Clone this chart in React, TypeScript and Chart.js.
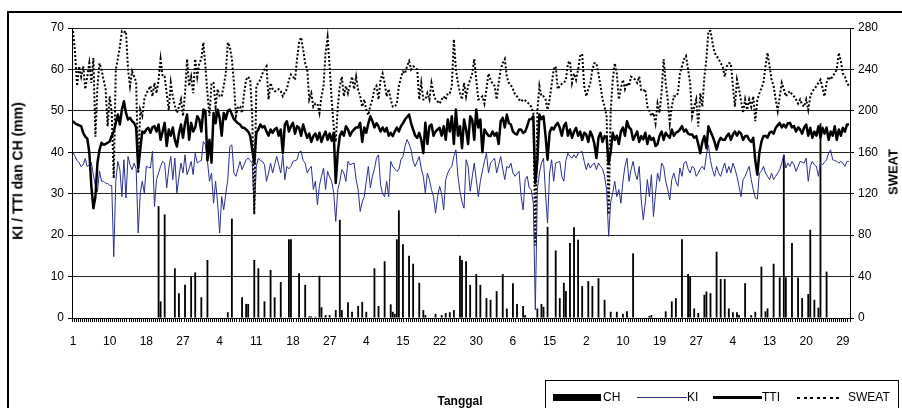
import React, { useEffect, useRef } from 'react';
import { Chart, registerables } from 'chart.js';

Chart.register(...registerables);

const FONT = "'Liberation Sans', Arial, Helvetica, sans-serif";

// x-axis tick labels (one label every LABEL_EVERY observations)
const tickLabels = ['1', '10', '18', '27', '4', '11', '18', '27', '4', '15', '22', '30', '6', '15', '2', '10', '19', '27', '4', '13', '20', '29'];
const LABEL_EVERY = 18;

// CH (mm) – rainfall bars, left axis
const chValues = [
  0, 0, 0, 0, 0, 0, 0, 0, 0, 0, 0, 0, 0, 0, 0, 0, 0, 0, 0, 0,
  0, 0, 0, 0, 0, 0, 0, 0, 0, 0, 0, 0, 0, 0, 0, 0, 0, 0, 0, 0,
  0, 0, 27, 4, 0, 25, 0, 0, 0, 0, 12, 0, 6, 0, 0, 8, 0, 0, 10, 0,
  11, 0, 0, 5, 0, 0, 14, 0, 0, 0, 0, 0, 0, 0, 0, 0, 1.4, 0, 24, 0,
  0, 0, 0, 5, 0, 3.4, 3.4, 0, 0, 14, 0, 12, 0, 0, 4, 0, 0, 11.6, 0, 5,
  0, 0, 8.7, 0, 0, 0, 19, 19, 0, 0, 0, 10.8, 0, 0, 8, 0, 0.4, 0.4, 0, 0.3,
  0, 10.2, 2.6, 0, 0.7, 0, 0.7, 0, 0, 1.9, 0, 23.7, 1.9, 0, 0, 3.8, 0, 1.5, 0, 0,
  2.9, 0, 3.9, 0, 1.5, 0, 0, 0, 12, 0, 2.9, 0, 0, 13.7, 0, 0, 3.3, 1.5, 1, 19,
  26, 0, 17.8, 0, 0, 15, 0, 13.1, 0, 0, 8.5, 0, 1.9, 0.7, 0, 0, 0, 0, 1, 0,
  0, 0.7, 0, 1.2, 0, 1.4, 0, 1.9, 0, 0, 15, 14, 0, 13.7, 0, 8, 0, 0, 10.6, 0,
  8, 0, 0, 4.8, 0, 4.4, 0, 0, 6.5, 0, 0, 10.6, 0, 2.3, 0, 0, 8.4, 0, 3.4, 0,
  0, 2.9, 0.7, 0, 0, 0, 0, 0, 2.3, 0, 3.4, 2.7, 0, 22, 0, 0, 0, 16.3, 0, 4.8,
  0, 8.5, 6.5, 0, 18.1, 0, 21.9, 0, 18.9, 0, 7.7, 0, 0, 8.9, 0, 7.7, 0, 0, 9.6, 0,
  0, 4.4, 0, 0, 1.5, 0, 0, 1.5, 0, 0, 1, 0, 1.6, 0, 0, 15.6, 0, 0, 0, 0,
  0, 0, 0, 0.5, 0.7, 0, 0, 0, 0, 0, 0, 1.6, 0, 0, 4, 0, 4.8, 0, 0, 19,
  0, 0, 10.6, 10, 0, 2.3, 0, 1.2, 0, 0, 5.6, 6.4, 0, 6, 0, 0, 16, 0, 9.4, 0,
  9.4, 0, 2.3, 0, 1.4, 0, 1.4, 0.7, 0, 0, 8.4, 0, 0, 0.7, 0, 1.5, 0, 0, 12.4, 0,
  1.6, 2.3, 0, 0, 13.1, 0, 0, 9.8, 0, 39.4, 9.8, 0, 0, 18.1, 0, 0, 9.8, 0, 4.8, 0,
  0, 5.8, 21.3, 0, 4.4, 0, 2.5, 47, 0, 0, 11.2, 0, 0, 0, 0, 0, 0, 0, 0, 0,
  0, 0,
];

// KI – left axis
const kiValues = [
  40, 39, 38, 37.5, 36.5, 37, 38.5, 36.5, 37, 37.5, 34.5, 32, 30.5, 35.5, 33, 33, 32.5, 32.5, 32, 32,
  14.8, 33, 37.8, 35.8, 29.3, 38.2, 29, 39, 37, 35.8, 37.4, 36, 20.5, 30, 33, 30.2, 36.6, 36.4, 36.2, 40.3,
  26.9, 33.4, 35, 36.6, 37.8, 37.4, 31.4, 36, 39, 33.4, 38.6, 30.2, 34, 37.4, 35, 39.4, 34.6, 36, 37.8, 34.6,
  39.8, 37.4, 37.8, 38, 42.6, 41.8, 38, 33, 35, 27.7, 33, 27.7, 20.5, 29.3, 26.1, 30, 33.4, 41.4, 41.8, 35,
  34.2, 36, 37.8, 35.8, 37, 38.2, 38.6, 38, 37.4, 25.3, 36.6, 38.6, 38, 37.8, 37, 33, 35, 37.4, 35, 37,
  39, 37, 35, 39.4, 33.4, 36.6, 36, 36.6, 37.8, 38, 38.2, 40, 40.3, 38, 37.4, 35, 36, 36.6, 31, 33,
  27.3, 32, 34.2, 36.2, 31, 35.4, 34, 33, 30.2, 23.3, 31, 33, 35.8, 35, 33, 37.8, 37, 37.2, 37.4, 33.4,
  31, 25.7, 28, 29.3, 33, 36.6, 31.4, 34.2, 36, 38.6, 39.4, 32.2, 30, 29.3, 33, 29.3, 37.8, 36.6, 36, 35.4,
  35.8, 38.2, 39, 41.4, 43.1, 42, 40.6, 37.8, 36.6, 37.8, 39, 36, 34.2, 30.2, 35, 33.4, 31, 29.3, 25.3, 29.3,
  31.8, 30, 26.1, 33.4, 35, 36, 36.6, 39, 40.6, 34.2, 30.6, 28, 26.5, 38.2, 36.6, 30.6, 34, 37.4, 33.4, 29.3,
  33, 35.5, 37.8, 39.8, 35, 37.4, 38, 38.6, 35, 37, 39, 36, 33.4, 36.6, 36.2, 37.4, 35, 34.2, 34.8, 35.4,
  29.3, 26.1, 33.4, 34.2, 31.4, 31, 27.7, 2, 31, 35, 37.4, 38.6, 30, 22.9, 35, 38.2, 33, 37.4, 37.6, 37.8,
  34.2, 33, 38, 39.8, 39, 38.6, 39.4, 38.6, 39.8, 40, 40.2, 37.8, 35.8, 37.4, 36.2, 37, 37.4, 35.8, 37.4, 36.6,
  36, 34.2, 31, 19.7, 28, 30.2, 33, 29.3, 31, 27.7, 33, 36.6, 38.6, 33, 35.8, 37.8, 35, 33.4, 36.6, 28.5,
  23.7, 28, 33.4, 29.3, 34.6, 24.5, 30, 35, 33, 37.4, 36.6, 33, 31, 28.5, 33.4, 35, 33, 31.8, 36.2, 34.2,
  37.4, 37.8, 36, 35, 36.6, 36.2, 34.2, 35, 36, 36.6, 35.8, 39.4, 41.8, 38, 35.8, 34.2, 36.6, 35, 34.2, 36,
  37.4, 35, 36.6, 35, 37.4, 36, 34.2, 31.8, 29.3, 33.4, 34.2, 35.5, 36.6, 33.4, 31, 29, 28.7, 35, 35.4, 36.6,
  35, 34.2, 33.4, 35, 33.4, 34.2, 35, 35.8, 37.4, 39.4, 36.2, 37.4, 36.6, 37.8, 37, 35.4, 36.6, 37.8, 37.6, 37.4,
  38.6, 33, 36.6, 37.8, 37, 36.6, 34.2, 37.4, 37, 37.6, 38.2, 39.8, 40.6, 38.2, 38, 37.8, 37.4, 37.8, 37.4, 36.6,
  37.8, 37.8,
];

// TTI – left axis
const ttiValues = [
  47.5, 47, 46.7, 46.5, 46.3, 44.7, 43.8, 43.3, 40, 31.8, 26.5, 29.3, 37.4, 40.6, 42.3, 41.8, 42, 42.3, 42.6, 44,
  45, 47, 49.1, 46.7, 50.3, 52.3, 49.5, 47.9, 48.3, 47.5, 47.1, 45.9, 36.2, 40.6, 45, 44.7, 45.5, 45.9, 44.7, 46,
  46.3, 45, 46.7, 43, 45, 47.1, 41.5, 45.5, 44, 46, 43, 41.4, 44.5, 46.7, 43.5, 47, 49.1, 43, 47.1, 45,
  46, 48.7, 47.9, 45, 50.3, 50, 38, 43, 37.5, 49.5, 47, 50.3, 48.3, 44, 49.5, 48, 50, 50.3, 49.1, 48,
  47.5, 47, 46.7, 46, 45.9, 45.5, 45, 44, 40.6, 37.4, 44.7, 45.5, 46.7, 46, 46.3, 45, 44, 45.5, 44.7, 45.5,
  45.9, 44, 45.5, 39.8, 46.7, 47.5, 45, 46.3, 47.1, 44.5, 46.3, 45.9, 44, 46.7, 45, 43.5, 44.5, 42.5, 43.9, 44.5,
  43, 44.7, 42.5, 44, 45, 43, 44.5, 42.8, 44.7, 32.6, 40, 43.9, 45, 44, 46.3, 45.5, 44, 45, 45.5, 46,
  46, 47.1, 42.5, 46, 44.7, 47, 48.7, 47.5, 46, 47, 46.3, 45, 46, 45, 45.9, 44, 44.7, 43.9, 45, 46,
  45, 46.3, 47, 47.9, 48.5, 49.1, 47, 45.5, 44, 43.5, 44.7, 43, 39.8, 47.1, 42, 46.3, 46.7, 44, 45, 45.5,
  45.9, 44, 46.3, 43, 47.9, 45, 48.7, 42, 50.3, 44, 46.3, 41, 47.9, 45.5, 42, 48.7, 47.9, 43, 50.3, 46,
  47.9, 40, 45.5, 44.7, 44, 43.9, 45, 44, 44.7, 42, 47.5, 48.3, 46, 49.1, 47, 46.7, 45, 44.5, 44.3, 45.5,
  45.5, 44.7, 45, 46.3, 47.9, 48, 48.7, 32.6, 38, 49.1, 48, 48.7, 44, 38.2, 44.7, 46, 45.5, 46.5, 47.1, 45.9,
  44, 46.3, 47.1, 44, 45.5, 43.5, 45, 45.9, 44, 45, 43, 44.7, 44.3, 42.5, 45, 43.9, 42, 38.6, 43.5, 44.7,
  42.5, 43.9, 43.5, 37.4, 40, 44.7, 43, 44, 42, 45, 46, 44, 47.5, 46, 45.5, 43, 44, 45, 42.5, 43.9,
  43.1, 44.7, 42, 44, 43, 43.5, 41.5, 42, 44, 45, 43, 44.7, 44, 43.5, 45.5, 44, 44.7, 45, 45.5, 46.3,
  45, 45.5, 44.5, 44.3, 44.3, 43.5, 43.9, 42, 39.8, 42.5, 43.9, 41, 46.3, 45, 43.9, 42.5, 40.6, 42.5, 43.5, 43,
  43, 43.9, 44.5, 43, 44.3, 45, 44, 45, 44.5, 43, 43.9, 44, 43, 42.5, 43.5, 38, 34.6, 40, 42.5, 43.9,
  44, 43.5, 44.7, 45, 44.5, 45.9, 46.5, 47.1, 46, 46.7, 46, 47, 47.1, 46, 46.3, 45, 46, 45.5, 44.5, 46,
  46.7, 44, 45.9, 43.5, 45, 44, 46.3, 43.5, 45.9, 44.5, 46, 43, 45, 44, 46.3, 43, 45.5, 44, 45.9, 45,
  46.7, 46.7,
];

// SWEAT – right axis
const sweatValues = [
  277, 256, 224, 243, 233, 243, 221, 233, 246, 227, 251, 175, 224, 246, 240, 230, 221, 185, 214, 198,
  135, 240, 250, 262, 277, 276, 277, 240, 224, 238, 233, 228, 140, 201, 195, 211, 217, 220, 224, 214,
  227, 217, 230, 250, 233, 233, 217, 201, 227, 214, 205, 198, 204, 211, 195, 217, 250, 224, 233, 217,
  250, 233, 246, 250, 266, 243, 217, 195, 227, 227, 204, 221, 214, 214, 224, 236, 266, 262, 250, 227,
  195, 204, 204, 198, 217, 230, 233, 230, 195, 100, 224, 227, 230, 236, 240, 243, 211, 227, 221, 219,
  219, 221, 219, 214, 218, 221, 230, 235, 233, 230, 250, 266, 271, 259, 246, 240, 211, 217, 204, 207,
  207, 198, 214, 224, 256, 271, 243, 211, 185, 170, 204, 224, 233, 214, 224, 217, 225, 233, 221, 233,
  220, 214, 204, 211, 201, 196, 205, 211, 221, 224, 211, 230, 236, 227, 214, 221, 211, 204, 204, 207,
  224, 232, 238, 236, 243, 248, 240, 243, 242, 240, 211, 227, 211, 211, 217, 211, 227, 217, 211, 209,
  207, 211, 214, 211, 217, 217, 224, 269, 240, 227, 217, 211, 227, 214, 224, 230, 236, 250, 230, 211,
  212, 214, 207, 221, 236, 230, 226, 224, 211, 227, 240, 246, 250, 233, 227, 225, 221, 216, 214, 211,
  209, 211, 210, 209, 206, 204, 198, 70, 200, 224, 214, 214, 211, 201, 211, 225, 240, 243, 221, 224,
  226, 227, 230, 246, 248, 227, 236, 230, 240, 253, 255, 224, 214, 221, 227, 240, 246, 246, 236, 224,
  211, 204, 195, 100, 200, 230, 246, 236, 211, 222, 230, 221, 227, 224, 233, 232, 230, 227, 233, 220,
  219, 221, 204, 200, 195, 198, 188, 207, 198, 218, 250, 227, 211, 188, 204, 214, 214, 217, 236, 243,
  250, 253, 240, 227, 195, 204, 211, 185, 217, 204, 233, 250, 277, 277, 266, 256, 253, 250, 246, 243,
  233, 243, 246, 246, 224, 204, 230, 221, 210, 198, 211, 201, 211, 204, 214, 190, 211, 217, 222, 227,
  243, 256, 243, 230, 224, 211, 200, 214, 227, 221, 214, 217, 219, 216, 214, 211, 207, 211, 206, 204,
  211, 201, 214, 219, 221, 224, 227, 230, 222, 214, 227, 233, 230, 234, 236, 240, 256, 248, 236, 233,
  227, 224,
];

const categories = chValues.map((_, i) =>
  i % LABEL_EVERY === 0 ? (tickLabels[i / LABEL_EVERY] ?? '') : ''
);

const KI_COLOR = '#2B2F8E';

export default function App() {
  const ref = useRef<HTMLCanvasElement | null>(null);

  useEffect(() => {
    const canvas = ref.current;
    if (!canvas) return;
    Chart.defaults.font.family = FONT;
    const chart = new Chart(canvas, {
      type: 'bar',
      data: {
        labels: categories,
        datasets: [
          {
            type: 'line', label: 'SWEAT', data: sweatValues, yAxisID: 'y1',
            borderColor: '#000', borderWidth: 2, borderDash: [2, 2],
            pointRadius: 0, fill: false, tension: 0, order: 1,
          },
          {
            type: 'line', label: 'TTI', data: ttiValues, yAxisID: 'y',
            borderColor: '#000', borderWidth: 2.5, borderJoinStyle: 'round',
            pointRadius: 0, fill: false, tension: 0, order: 2,
          },
          {
            type: 'line', label: 'KI', data: kiValues, yAxisID: 'y',
            borderColor: KI_COLOR, borderWidth: 1,
            pointRadius: 0, fill: false, tension: 0, order: 3,
          },
          {
            type: 'bar', label: 'CH', data: chValues, yAxisID: 'y',
            backgroundColor: '#000', borderWidth: 0,
            barPercentage: 0.9, categoryPercentage: 1, order: 4,
          },
        ],
      } as any,
      options: {
        responsive: false,
        devicePixelRatio: 1,
        animation: false,
        layout: { padding: { top: 28, left: 0, right: 0, bottom: 0 } },
        plugins: { legend: { display: false }, tooltip: { enabled: false } },
        scales: {
          x: {
            type: 'category',
            offset: true,
            grid: { display: true, drawOnChartArea: false, drawTicks: true, tickLength: 4, color: '#000', lineWidth: 1, offset: true },
            border: { display: true, color: '#000', width: 1 },
            ticks: { autoSkip: false, maxRotation: 0, minRotation: 0, color: '#000', font: { size: 12, family: FONT }, padding: 12 },
            afterFit: (s: any) => { s.height = 90; },
          },
          y: {
            position: 'left', min: 0, max: 70,
            ticks: { stepSize: 10, color: '#000', font: { size: 12, family: FONT }, padding: 4 },
            grid: { color: '#222', lineWidth: 1, drawTicks: true, tickLength: 4, tickColor: '#000' },
            border: { display: true, color: '#000', width: 1 },
            afterFit: (s: any) => { s.width = 72; },
          },
          y1: {
            position: 'right', min: 0, max: 280,
            ticks: { stepSize: 40, color: '#000', font: { size: 12, family: FONT }, padding: 4 },
            grid: { drawOnChartArea: false, drawTicks: true, tickLength: 4, color: '#000' },
            border: { display: true, color: '#000', width: 1 },
            afterFit: (s: any) => { s.width = 52; },
          },
        },
      } as any,
    });
    return () => chart.destroy();
  }, []);

  const txt: React.CSSProperties = { position: 'absolute', fontSize: 12, lineHeight: '15px', whiteSpace: 'nowrap', color: '#000' };

  return (
    <div style={{ position: 'fixed', left: 0, top: 0, width: 902, height: 408, overflow: 'hidden', background: '#fff', fontFamily: FONT }}>
      <div style={{ position: 'absolute', left: 7, top: 11, width: 1000, height: 1000, borderLeft: '2px solid #000', borderTop: '2px solid #000' }} />
      <canvas ref={ref} width={902} height={408} style={{ position: 'absolute', left: 0, top: 0, width: 902, height: 408 }} />
      <div style={{ ...txt, fontWeight: 'bold', fontSize: 14, left: 18, top: 171, transform: 'translate(-50%, -50%) rotate(-90deg)' }}>KI / TTI dan CH (mm)</div>
      <div style={{ ...txt, fontWeight: 'bold', fontSize: 13, left: 893, top: 172, transform: 'translate(-50%, -50%) rotate(-90deg)' }}>SWEAT</div>
      <div style={{ ...txt, fontWeight: 'bold', left: 460, top: 394, transform: 'translateX(-50%)' }}>Tanggal</div>
      <div style={{ position: 'absolute', left: 545, top: 380, width: 352, height: 40, border: '1px solid #000' }} />
      <div style={{ position: 'absolute', left: 553, top: 394, width: 48, height: 7, background: '#000' }} />
      <div style={{ ...txt, left: 603, top: 390 }}>CH</div>
      <div style={{ position: 'absolute', left: 637, top: 397, width: 50, height: 1, background: KI_COLOR }} />
      <div style={{ ...txt, left: 687, top: 390 }}>KI</div>
      <div style={{ position: 'absolute', left: 713, top: 396, width: 49, height: 3, background: '#000' }} />
      <div style={{ ...txt, left: 762, top: 390 }}>TTI</div>
      <div style={{ position: 'absolute', left: 797, top: 397, width: 45, height: 2, background: 'repeating-linear-gradient(90deg, #000 0 3px, transparent 3px 6.5px)' }} />
      <div style={{ ...txt, left: 848, top: 390 }}>SWEAT</div>
    </div>
  );
}
